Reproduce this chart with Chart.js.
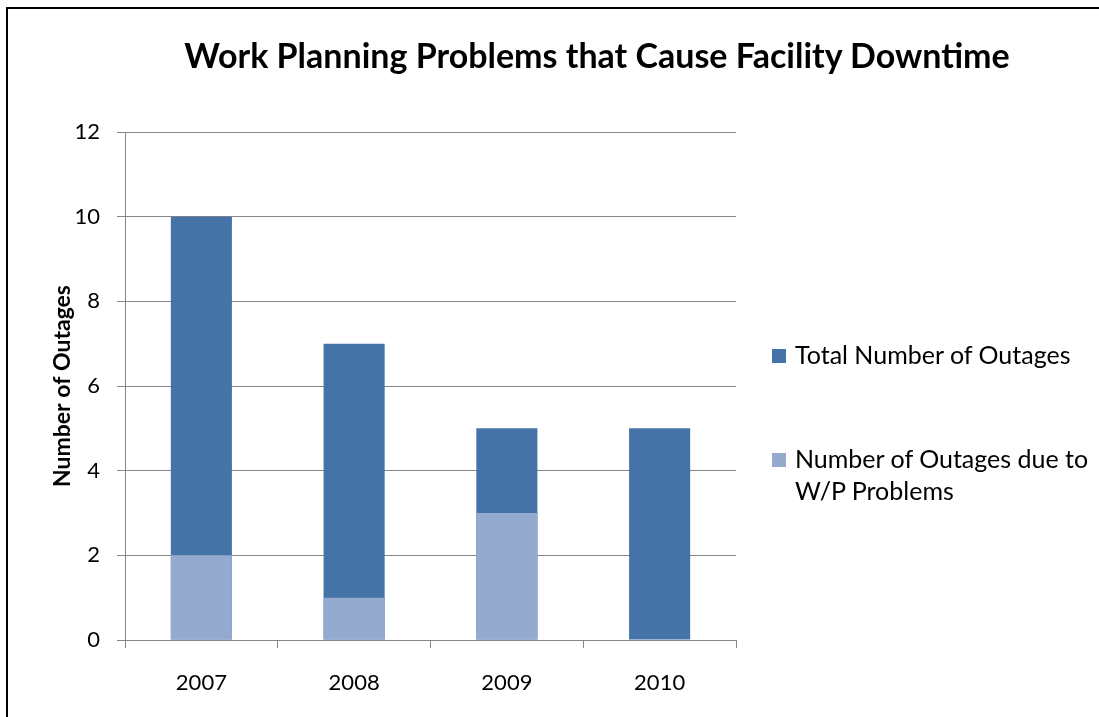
<!DOCTYPE html>
<html>
<head>
<meta charset="utf-8">
<script src="https://cdn.jsdelivr.net/npm/chart.js@4"></script>
<style>
  html, body { margin: 0; padding: 0; background: #fff; }
  body { width: 1099px; height: 717px; overflow: hidden; position: relative; font-family: Lato, "Open Sans", sans-serif; }
  #frame { position: absolute; left: 6px; top: 7px; width: 1200px; height: 800px; border: 2px solid #000; box-sizing: border-box; }
  #wrap { position: absolute; left: 0; top: 0; width: 1099px; height: 717px; }
  #title { position: absolute; left: 97px; width: 1000px; top: 35px; text-align: center; font: bold 34px/1.2 Lato, sans-serif; color: #000; white-space: nowrap; }
  .leg { position: absolute; left: 772px; display: flex; align-items: flex-start; }
  .leg .sw { width: 14px; height: 14px; margin-top: 11px; flex: none; }
  .leg .tx { margin-left: 9px; width: 300px; font: 25px/32px Lato, sans-serif; color: #000; }
</style>
</head>
<body>
<div id="frame"></div>
<div id="wrap"><canvas id="c" width="1099" height="717"></canvas></div>
<div id="title"></div>
<div id="legend"></div>
<script>
const chartTitle = "Work Planning Problems that Cause Facility Downtime";
const categories = ["2007", "2008", "2009", "2010"];
const totalOutages = [10, 7, 5, 5];
const wpOutages = [2, 1, 3, 0];
const seriesNames = ["Total Number of Outages", "Number of Outages due to W/P Problems"];
const seriesColors = ["#4573A7", "#95AACF"];
const yAxisTitle = "Number of Outages";

document.getElementById('title').textContent = chartTitle;

const legendTops = [338, 442];
const legendEl = document.getElementById('legend');
seriesNames.forEach((name, i) => {
  const item = document.createElement('div');
  item.className = 'leg';
  item.style.top = legendTops[i] + 'px';
  const sw = document.createElement('div');
  sw.className = 'sw';
  sw.style.background = seriesColors[i];
  const tx = document.createElement('div');
  tx.className = 'tx';
  tx.textContent = name;
  item.appendChild(sw); item.appendChild(tx);
  legendEl.appendChild(item);
});

const gridColor = '#868686';
new Chart(document.getElementById('c'), {
  type: 'bar',
  data: {
    labels: categories,
    datasets: [
      { label: seriesNames[0], data: totalOutages, backgroundColor: seriesColors[0], order: 2,
        barPercentage: 1, categoryPercentage: 0.4 },
      { label: seriesNames[1], data: wpOutages, backgroundColor: seriesColors[1], order: 1,
        barPercentage: 1, categoryPercentage: 0.4 }
    ]
  },
  options: {
    responsive: false,
    animation: false,
    layout: { padding: { left: 40, right: 363, top: 132, bottom: 0 } },
    plugins: { legend: { display: false }, title: { display: false }, tooltip: { enabled: false } },
    scales: {
      x: {
        stacked: true,
        afterFit: s => { s.height = 77; },
        border: { color: gridColor, width: 1 },
        grid: { display: true, drawOnChartArea: false, drawTicks: true, tickLength: 8, offset: true, color: gridColor },
        ticks: { color: '#000', font: { family: 'Lato', size: 22 }, padding: 22 }
      },
      y: {
        stacked: false,
        min: 0, max: 12,
        afterFit: s => { s.width = 85; },
        border: { color: gridColor, width: 1 },
        grid: { color: gridColor, lineWidth: 1, tickLength: 8 },
        ticks: { stepSize: 2, color: '#000', font: { family: 'Lato', size: 22 }, padding: 17 },
        title: { display: true, text: yAxisTitle, color: '#000', font: { family: 'Lato', size: 23, weight: 'bold' }, padding: { top: 9, bottom: 0 } }
      }
    }
  }
});
</script>
</body>
</html>
